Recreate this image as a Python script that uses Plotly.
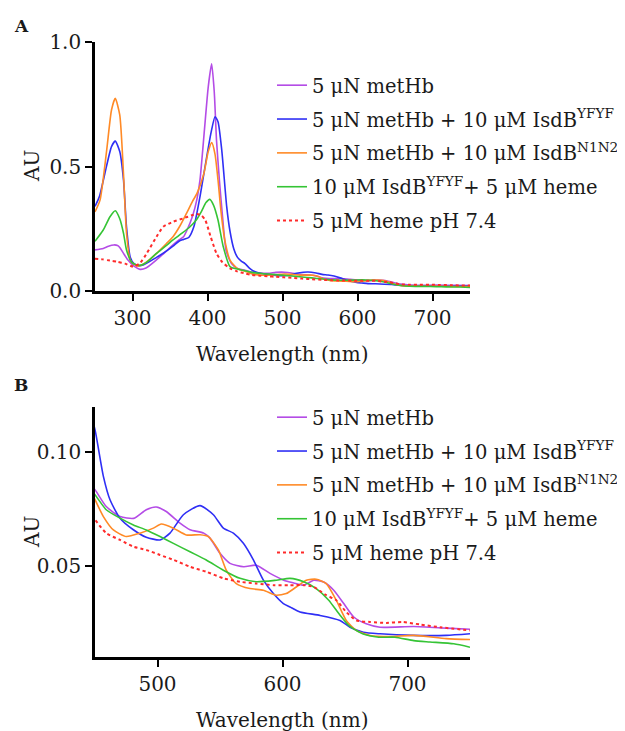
import plotly.graph_objects as go

# ---------------- data ----------------
labels = [
    "5 μN metHb",
    "5 μN metHb + 10 μM IsdB<sup>YFYF</sup>",
    "5 μN metHb + 10 μM IsdB<sup>N1N2</sup>",
    "10 μM IsdB<sup>YFYF</sup>+ 5 μM heme",
    "5 μM heme pH 7.4",
]
colors = ["#B44CE6", "#2F2FF5", "#FF8A26", "#35C435", "#FF2A2A"]
dashes = ["solid", "solid", "solid", "solid", "3px,3px"]

wl_methb = [250, 261, 268, 275, 280, 283, 288, 294, 300, 304, 310, 318, 332, 345, 354, 362, 368, 372, 380, 386,
            390, 396, 401, 405.5, 409, 412, 416, 420, 425, 432, 440, 450, 459, 470, 481, 491, 499, 507, 518, 526,
            537, 542, 550, 558, 569, 579, 590, 601, 609, 617, 625, 633, 641, 649, 657, 667, 678, 705, 731, 750]
au_methb = [0.165, 0.171, 0.180, 0.185, 0.183, 0.175, 0.151, 0.124, 0.105, 0.096, 0.087, 0.092, 0.125, 0.160, 0.185,
            0.205, 0.218, 0.240, 0.300, 0.370, 0.446, 0.650, 0.820, 0.912, 0.800, 0.606, 0.440, 0.300, 0.160, 0.110,
            0.090, 0.0836, 0.0762, 0.0718, 0.0710, 0.0748, 0.0760, 0.0740, 0.0689, 0.0660, 0.0645, 0.0623, 0.0556,
            0.0512, 0.0497, 0.0504, 0.0468, 0.0438, 0.0426, 0.0416, 0.0438, 0.0430, 0.0394, 0.0335, 0.0276, 0.0246,
            0.0231, 0.0234, 0.0227, 0.0222]

wl_yfyf = [250, 256, 263, 272, 277, 283, 288, 292, 297, 302, 308, 315, 332, 345, 354, 362, 368, 375, 382, 390,
           399, 405, 410, 414, 419, 425.6, 430, 435, 440, 445, 450, 456.7, 462, 470, 480.7, 491, 502, 510, 520.7,
           534, 544.7, 552.7, 560.7, 568.7, 576.7, 584.7, 592.7, 600.7, 606, 614, 630, 646, 654, 664.7, 678, 704.7,
           731, 750]
au_yfyf = [0.340, 0.380, 0.470, 0.580, 0.602, 0.560, 0.446, 0.258, 0.136, 0.110, 0.102, 0.105, 0.135, 0.160, 0.180,
           0.200, 0.207, 0.215, 0.260, 0.379, 0.540, 0.640, 0.700, 0.680, 0.566, 0.339, 0.240, 0.170, 0.135, 0.120,
           0.110, 0.0895, 0.0792, 0.0711, 0.0660, 0.0627, 0.0615, 0.0645, 0.0726, 0.0766, 0.0726, 0.0667, 0.0645,
           0.0600, 0.0527, 0.0438, 0.0379, 0.0335, 0.0320, 0.0298, 0.0283, 0.0261, 0.0231, 0.0209, 0.0202, 0.0195,
           0.0195, 0.0202]

wl_n1n2 = [250, 256.7, 265.6, 272, 277, 283, 288, 292, 297, 303, 308, 318, 332, 345, 354, 363, 372, 380, 386, 395,
           401, 405.6, 410, 414, 418, 423, 430, 440, 450, 456.7, 464.7, 475, 486, 496.7, 503, 512.7, 523, 534, 540.7,
           548.7, 555, 563, 574, 584.7, 595, 603, 611, 619, 627, 635, 643, 651, 659, 670, 686, 705, 731, 750]
au_n1n2 = [0.318, 0.365, 0.566, 0.727, 0.774, 0.707, 0.470, 0.233, 0.124, 0.105, 0.100, 0.115, 0.151, 0.190, 0.218,
           0.260, 0.312, 0.360, 0.392, 0.470, 0.560, 0.596, 0.550, 0.446, 0.320, 0.205, 0.124, 0.090, 0.0792, 0.0718,
           0.0659, 0.0630, 0.0645, 0.0667, 0.0685, 0.0667, 0.0637, 0.0638, 0.0630, 0.0571, 0.0482, 0.0423, 0.0401,
           0.0394, 0.0372, 0.0379, 0.0408, 0.0438, 0.0442, 0.0423, 0.0350, 0.0261, 0.0217, 0.0195, 0.0190, 0.0195,
           0.0181, 0.0177]

wl_yfyf_heme = [250, 261, 270, 277, 283, 288, 292, 299, 305, 310, 320, 332, 344, 354, 366, 376.7, 385, 392, 398,
                403, 408, 414, 421, 430, 440, 450, 459, 470, 480.7, 491, 502, 512.7, 526, 539, 552.7, 566, 579, 595,
                606, 617, 627, 637, 645, 653, 664, 677, 690, 705, 718, 737, 750]
au_yfyf_heme = [0.200, 0.245, 0.298, 0.322, 0.290, 0.232, 0.165, 0.115, 0.105, 0.103, 0.118, 0.151, 0.180, 0.205,
                0.232, 0.258, 0.285, 0.320, 0.355, 0.368, 0.345, 0.285, 0.178, 0.098, 0.088, 0.0814, 0.0748, 0.0711,
                0.0681, 0.0659, 0.0630, 0.0600, 0.0563, 0.0527, 0.0482, 0.0446, 0.0431, 0.0438, 0.0446, 0.0431,
                0.0401, 0.0350, 0.0291, 0.0239, 0.0202, 0.0187, 0.0187, 0.0172, 0.0166, 0.0158, 0.0143]

wl_heme = [250, 260, 270, 280, 290, 301, 310, 319, 332, 341, 354, 368, 380, 386, 392, 397, 404, 412, 420, 430, 440,
           450, 459, 470, 481, 491, 502, 513, 526, 539, 553, 566, 579, 593, 606, 617, 625, 635, 643, 651, 659, 670,
           683, 696, 710, 726, 750]
au_heme = [0.130, 0.127, 0.122, 0.117, 0.110, 0.098, 0.112, 0.151, 0.218, 0.258, 0.278, 0.292, 0.305, 0.309, 0.303,
           0.285, 0.220, 0.151, 0.115, 0.091, 0.078, 0.0704, 0.0645, 0.0615, 0.0585, 0.0571, 0.0549, 0.0527, 0.0497,
           0.0475, 0.0446, 0.0431, 0.0423, 0.0416, 0.0416, 0.0416, 0.0408, 0.0372, 0.0350, 0.0298, 0.0261, 0.0254,
           0.0250, 0.0254, 0.0243, 0.0231, 0.0217]

series_wl = [wl_methb, wl_yfyf, wl_n1n2, wl_yfyf_heme, wl_heme]
series_au = [au_methb, au_yfyf, au_n1n2, au_yfyf_heme, au_heme]

xticks_a = [300, 400, 500, 600, 700]
yticks_a = [0.0, 0.5, 1.0]
yticktext_a = ["0.0", "0.5", "1.0"]
xticks_b = [500, 600, 700]
yticks_b = [0.05, 0.10]
yticktext_b = ["0.05", "0.10"]

# ---------------- figure ----------------
# the page body has an 8px margin, so the figure is drawn from (8, 8)
OFF = 8
W, H = 625 - OFF, 731 - OFF
FONT = "DejaVu Serif"


def px_x(p):
    return (p - OFF) / W


def px_y(p):
    return 1 - (p - OFF) / H


fig = go.Figure()
for i in range(5):
    for panel, xa, ya, leg in (("a", "x", "y", "legend"), ("b", "x2", "y2", "legend2")):
        fig.add_trace(go.Scatter(
            x=series_wl[i], y=series_au[i], mode="lines", name=labels[i],
            xaxis=xa, yaxis=ya, legend=leg, legendgroup=f"{panel}{i}",
            line=dict(color=colors[i], width=2 if i == 4 else 1.6, dash=dashes[i],
                      shape="spline", smoothing=0.6),
        ))

axis_common = dict(showline=True, linecolor="black", linewidth=2.6, ticks="outside", ticklen=7,
                   tickwidth=2.4, tickcolor="black", showgrid=False, zeroline=False, automargin=False,
                   tickfont=dict(family=FONT, size=20, color="#1a1a1a"), fixedrange=True)

legend_common = dict(xanchor="left", yanchor="top", bgcolor="rgba(0,0,0,0)", traceorder="grouped",
                     tracegroupgap=5.5, font=dict(family=FONT, size=19.5, color="#1a1a1a"))

fig.update_layout(
    width=W, height=H, margin=dict(l=0, r=0, t=0, b=0, pad=0, autoexpand=False),
    paper_bgcolor="white", plot_bgcolor="white",
    font=dict(family=FONT, size=20, color="#1a1a1a"),
    xaxis=dict(domain=[px_x(95), px_x(470)], range=[250, 750], tickvals=xticks_a, anchor="y", **axis_common),
    yaxis=dict(domain=[px_y(291), px_y(42)], range=[0, 1.0], tickvals=yticks_a, ticktext=yticktext_a,
               anchor="x", **axis_common),
    xaxis2=dict(domain=[px_x(95), px_x(470)], range=[450, 750], tickvals=xticks_b, anchor="y2", **axis_common),
    yaxis2=dict(domain=[px_y(657), px_y(407)], range=[0.01, 0.12], tickvals=yticks_b, ticktext=yticktext_b,
                anchor="x2", **axis_common),
    legend=dict(x=px_x(272), y=px_y(66), **legend_common),
    legend2=dict(x=px_x(272), y=px_y(398), **legend_common),
    showlegend=True,
)

annos = [
    dict(text="<b>A</b>", x=px_x(21), y=px_y(25.5), font=dict(size=17)),
    dict(text="<b>B</b>", x=px_x(21), y=px_y(385), font=dict(size=17)),
    dict(text="AU", x=px_x(32), y=px_y(166), textangle=-90),
    dict(text="AU", x=px_x(32), y=px_y(532), textangle=-90),
    dict(text="Wavelength (nm)", x=px_x(282.5), y=px_y(354)),
    dict(text="Wavelength (nm)", x=px_x(282.5), y=px_y(720)),
]
for a in annos:
    fnt = dict(family=FONT, size=20, color="#1a1a1a")
    fnt.update(a.pop("font", {}))
    fig.add_annotation(xref="paper", yref="paper", xanchor="center", yanchor="middle",
                       showarrow=False, font=fnt, **a)

fig.write_html("out.html")
